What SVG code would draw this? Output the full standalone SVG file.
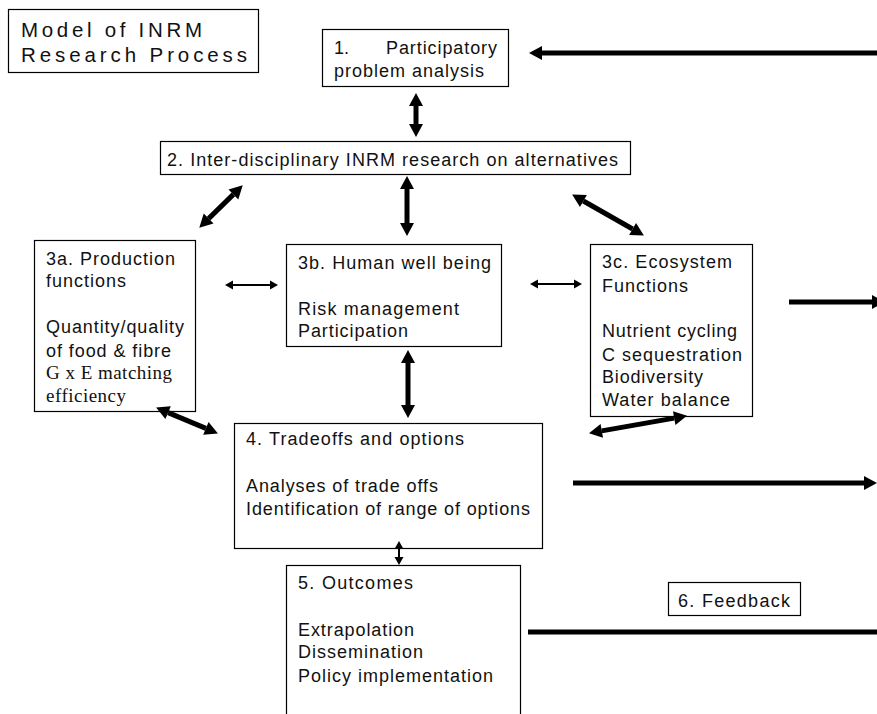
<svg xmlns="http://www.w3.org/2000/svg" width="877" height="714" viewBox="0 0 877 714">
<style>
.box{fill:#fff;stroke:#000;stroke-width:1.2}
.t{font-family:"Liberation Sans",Arial,sans-serif;font-size:18px;fill:#111}
.s{font-family:"Liberation Serif","Times New Roman",serif;font-size:19px;fill:#111}
.big{stroke:#000;stroke-width:5;fill:none}
.thin{stroke:#000;stroke-width:2;fill:none}
</style>
<defs>
<marker id="hb" markerUnits="userSpaceOnUse" markerWidth="14" markerHeight="16" refX="0" refY="7" orient="auto-start-reverse" overflow="visible">
<path d="M0,0 L13,7 L0,14 z" fill="#000"/>
</marker>
<marker id="hs" markerUnits="userSpaceOnUse" markerWidth="10" markerHeight="10" refX="0" refY="4.5" orient="auto-start-reverse" overflow="visible">
<path d="M0,0 L8,4.5 L0,9 z" fill="#000"/>
</marker>
</defs>
<rect width="877" height="714" fill="#fff"/>

<g id="title">
<rect class="box" x="8.5" y="9.5" width="250" height="63"/>
<text class="t" style="font-size:20.5px" x="21" y="37" textLength="181" lengthAdjust="spacing">Model of INRM</text>
<text class="t" style="font-size:20.5px" x="21" y="62" textLength="226" lengthAdjust="spacing">Research Process</text>
</g>

<g id="n1">
<rect class="box" x="322.5" y="29.5" width="186" height="57"/>
<text class="t" x="334" y="54">1.</text>
<text class="t" x="386" y="54" textLength="111" lengthAdjust="spacing">Participatory</text>
<text class="t" x="334" y="77" textLength="150" lengthAdjust="spacing">problem analysis</text>
</g>

<g id="n2">
<rect class="box" x="160.5" y="141.5" width="470" height="33"/>
<text class="t" x="167" y="166" textLength="451" lengthAdjust="spacing">2. Inter-disciplinary INRM research on alternatives</text>
</g>

<g id="n3a">
<rect class="box" x="34.5" y="240.5" width="161" height="171"/>
<text class="t" x="46" y="265" textLength="129" lengthAdjust="spacing">3a. Production</text>
<text class="t" x="46" y="287" textLength="80" lengthAdjust="spacing">functions</text>
<text class="t" x="46" y="333" textLength="138" lengthAdjust="spacing">Quantity/quality</text>
<text class="t" x="46" y="357" textLength="125" lengthAdjust="spacing">of food &amp; fibre</text>
<text class="s" x="46" y="379" textLength="126" lengthAdjust="spacing">G x E matching</text>
<text class="s" x="46" y="402" textLength="80" lengthAdjust="spacing">efficiency</text>
</g>

<g id="n3b">
<rect class="box" x="286.5" y="244.5" width="215" height="102"/>
<text class="t" x="298" y="269" textLength="193" lengthAdjust="spacing">3b. Human well being</text>
<text class="t" x="298" y="315" textLength="161" lengthAdjust="spacing">Risk management</text>
<text class="t" x="298" y="337" textLength="110" lengthAdjust="spacing">Participation</text>
</g>

<g id="n3c">
<rect class="box" x="590.5" y="244.5" width="162" height="172"/>
<text class="t" x="602" y="268" textLength="130" lengthAdjust="spacing">3c. Ecosystem</text>
<text class="t" x="602" y="292" textLength="86" lengthAdjust="spacing">Functions</text>
<text class="t" x="602" y="337" textLength="135" lengthAdjust="spacing">Nutrient cycling</text>
<text class="t" x="602" y="361" textLength="140" lengthAdjust="spacing">C sequestration</text>
<text class="t" x="602" y="383" textLength="101" lengthAdjust="spacing">Biodiversity</text>
<text class="t" x="602" y="406" textLength="128" lengthAdjust="spacing">Water balance</text>
</g>

<g id="n4">
<rect class="box" x="234.5" y="423.5" width="308" height="125"/>
<text class="t" x="246" y="445" textLength="218" lengthAdjust="spacing">4. Tradeoffs and options</text>
<text class="t" x="246" y="492" textLength="192" lengthAdjust="spacing">Analyses of trade offs</text>
<text class="t" x="246" y="515" textLength="284" lengthAdjust="spacing">Identification of range of options</text>
</g>

<g id="n5">
<rect class="box" x="286.5" y="565.5" width="234" height="160"/>
<text class="t" x="298" y="589" textLength="115" lengthAdjust="spacing">5. Outcomes</text>
<text class="t" x="298" y="636" textLength="116" lengthAdjust="spacing">Extrapolation</text>
<text class="t" x="298" y="658" textLength="125" lengthAdjust="spacing">Dissemination</text>
<text class="t" x="298" y="682" textLength="195" lengthAdjust="spacing">Policy implementation</text>
</g>

<g id="n6">
<rect class="box" x="668.5" y="582.5" width="132" height="33"/>
<text class="t" x="678" y="607" textLength="112" lengthAdjust="spacing">6. Feedback</text>
</g>

<g id="connectors">
<line class="big" x1="416" y1="106" x2="416" y2="124" marker-start="url(#hb)" marker-end="url(#hb)"/>
<line class="big" x1="407" y1="189" x2="407" y2="223" marker-start="url(#hb)" marker-end="url(#hb)"/>
<line class="big" x1="233.4" y1="194.4" x2="208.6" y2="218.6" marker-start="url(#hb)" marker-end="url(#hb)"/>
<line class="big" x1="583.4" y1="201" x2="632.6" y2="229" marker-start="url(#hb)" marker-end="url(#hb)"/>
<line class="thin" x1="233" y1="285" x2="270" y2="285" marker-start="url(#hs)" marker-end="url(#hs)"/>
<line class="thin" x1="538" y1="284" x2="574" y2="284" marker-start="url(#hs)" marker-end="url(#hs)"/>
<line class="big" x1="408" y1="363" x2="408" y2="405" marker-start="url(#hb)" marker-end="url(#hb)"/>
<line class="big" x1="168.1" y1="412.6" x2="205.9" y2="428.4" marker-start="url(#hb)" marker-end="url(#hb)"/>
<line class="big" x1="601.8" y1="430.9" x2="674.2" y2="418.1" marker-start="url(#hb)" marker-end="url(#hb)"/>
<line class="thin" x1="399" y1="549" x2="399" y2="557" marker-start="url(#hs)" marker-end="url(#hs)"/>
<line class="big" x1="880" y1="53" x2="542" y2="53" marker-end="url(#hb)"/>
<line class="big" x1="789" y1="302" x2="872" y2="302" marker-end="url(#hb)"/>
<line class="big" x1="573" y1="483" x2="864" y2="483" marker-end="url(#hb)"/>
<line class="big" x1="528" y1="632" x2="880" y2="632"/>
</g>
</svg>
